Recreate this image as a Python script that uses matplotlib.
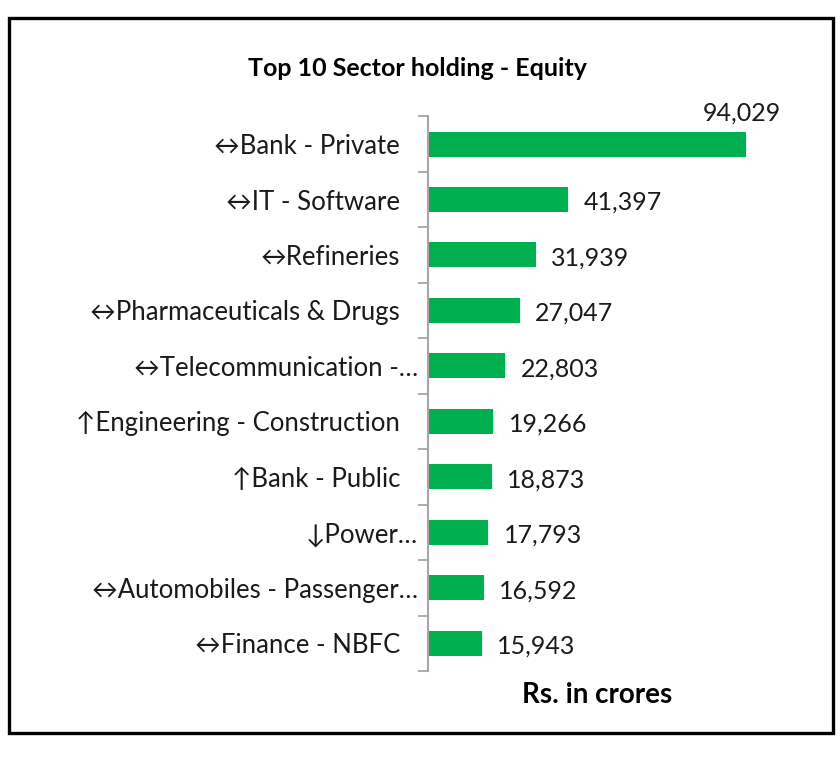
import matplotlib.pyplot as plt
from matplotlib.patches import Rectangle
from matplotlib.transforms import ScaledTranslation

sectors = [
    "↔Bank - Private",
    "↔IT - Software",
    "↔Refineries",
    "↔Pharmaceuticals & Drugs",
    "↔Telecommunication -…",
    "↑Engineering - Construction",
    "↑Bank - Public",
    "↓Power…",
    "↔Automobiles - Passenger…",
    "↔Finance - NBFC",
]
holding = [94029, 41397, 31939, 27047, 22803, 19266, 18873, 17793, 16592, 15943]

GREEN = "#00B050"
FONT = ["Lato", "DejaVu Sans"]

plt.rcParams["font.family"] = FONT

fig = plt.figure(figsize=(8.4, 7.6), dpi=100)
ax = fig.add_axes([0.5095, 0.117, 0.403, 0.730])

ypos = list(range(len(sectors)))
ax.barh(ypos, holding, height=0.45, color=GREEN)
ax.set_xlim(0, 100000)
ax.set_ylim(len(sectors) - 0.5, -0.5)

# category labels, ticks between categories like Excel
ax.set_yticks(ypos)
ax.set_yticklabels(sectors, fontsize=18.5, color="#1a1a1a")
ax.tick_params(axis="y", which="major", length=0, pad=20)
ax.set_yticks([i - 0.5 for i in range(len(sectors) + 1)], minor=True)
ax.tick_params(axis="y", which="minor", length=7, width=1.3, color="#a6a6a6")
for lbl in ax.get_yticklabels():
    if lbl.get_text().endswith("…"):
        lbl.set_transform(lbl.get_transform() + ScaledTranslation(18 / 100, 0, fig.dpi_scale_trans))

ax.set_xticks([])
for side in ["top", "right", "bottom"]:
    ax.spines[side].set_visible(False)
ax.spines["left"].set_color("#a6a6a6")
ax.spines["left"].set_linewidth(1.5)

# data labels
for y, v in zip(ypos, holding):
    text = f"{v:,}"
    if v == max(holding):
        ax.annotate(text, (v, y), xytext=(-3, 22), textcoords="offset points",
                    ha="center", va="center", fontsize=18, color="#1a1a1a")
    else:
        ax.annotate(text, (v, y), xytext=(11, -2), textcoords="offset points",
                    ha="left", va="center", fontsize=18, color="#1a1a1a")

ax.set_xlabel("Rs. in crores", fontsize=20, fontweight="bold", labelpad=8)
fig.text(0.497, 0.910, "Top 10 Sector holding - Equity", ha="center", va="center",
         fontsize=18, fontweight="bold")

# outer frame
fig.patches.append(Rectangle((0.011, 0.036), 0.981, 0.94, transform=fig.transFigure,
                             fill=False, edgecolor="black", linewidth=2.4))

fig.savefig("out.png", dpi=100)
